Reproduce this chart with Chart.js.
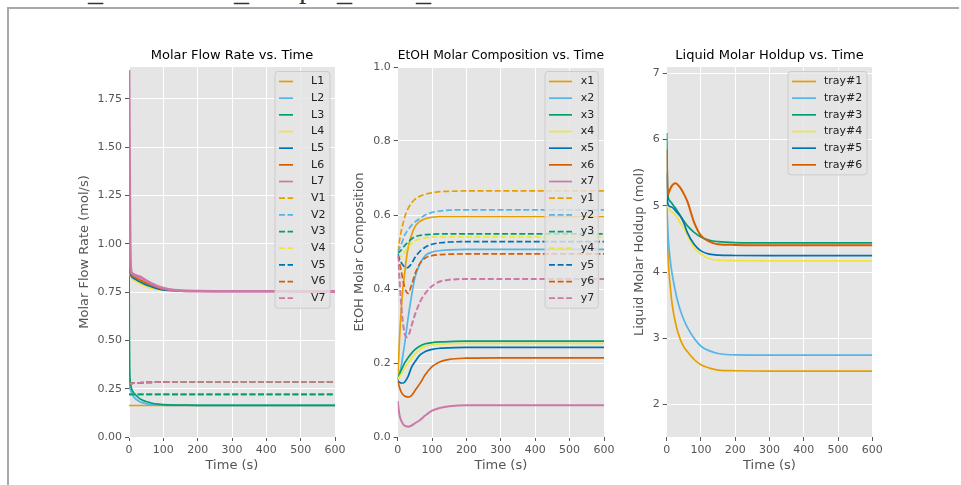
<!DOCTYPE html>
<html>
<head>
<meta charset="utf-8">
<script src="https://cdn.jsdelivr.net/npm/chart.js@4.4.1/dist/chart.umd.min.js"></script>
<style>
body{margin:0;background:#fff;width:961px;height:485px;overflow:hidden;position:relative;}
#frame{position:absolute;left:7px;top:7px;width:950px;height:490px;border-left:2px solid #a8a8a8;border-top:2px solid #a8a8a8;}
#cut{position:absolute;left:0;top:0;width:961px;height:6px;overflow:hidden;font-family:"Liberation Serif",serif;font-size:30px;line-height:30px;color:#333;}
#cut span{position:absolute;top:-24px;}
canvas{position:absolute;}
</style>
</head>
<body>
<div id="frame"></div>
<div id="cut"><span style="left:88px">_</span><span style="left:234px">_</span><span style="left:299px;top:-27px">p</span><span style="left:337px">_</span><span style="left:416px">_</span></div>
<canvas id="c1" width="285" height="445" style="left:60px;top:40px"></canvas>
<canvas id="c2" width="270" height="445" style="left:345px;top:40px"></canvas>
<canvas id="c3" width="275" height="445" style="left:615px;top:40px"></canvas>
<script>
// colours (Okabe-Ito)
var colors = ['#E69F00','#56B4E9','#009E73','#F0E442','#0072B2','#D55E00','#CC79A7'];

// Molar flow rate (mol/s)
var t1 = [0,1,2,3,5,8,15,30,47,65,85,115,155,200,300,400,500,600];
var L1 = [0.163,0.163,0.163,0.163,0.163,0.163,0.163,0.163,0.163,0.163,0.163,0.163,0.163,0.163,0.163,0.163,0.163,0.163];
var L2 = [0.30,0.28,0.26,0.25,0.24,0.226,0.205,0.184,0.174,0.168,0.166,0.164,0.164,0.164,0.164,0.164,0.164,0.164];
var L3 = [1.0,0.55,0.36,0.30,0.27,0.247,0.226,0.200,0.185,0.176,0.170,0.166,0.165,0.164,0.164,0.164,0.164,0.164];
var L4 = [1.05,0.95,0.88,0.85,0.83,0.82,0.81,0.795,0.78,0.77,0.762,0.757,0.755,0.755,0.755,0.755,0.755,0.755];
var L5 = [1.1,0.97,0.90,0.86,0.84,0.83,0.82,0.805,0.79,0.778,0.767,0.759,0.756,0.755,0.755,0.755,0.755,0.755];
var L6 = [1.2,1.0,0.92,0.87,0.85,0.84,0.83,0.815,0.80,0.787,0.773,0.762,0.757,0.755,0.755,0.755,0.755,0.755];
var L7 = [1.9,1.6,1.3,1.05,0.88,0.85,0.84,0.83,0.813,0.795,0.778,0.764,0.757,0.755,0.754,0.754,0.753,0.753];
var V1 = [0.221,0.221,0.221,0.221,0.221,0.221,0.221,0.221,0.221,0.221,0.221,0.221,0.221,0.221,0.221,0.221,0.221,0.221];
var V2 = [0.221,0.221,0.221,0.221,0.221,0.221,0.221,0.221,0.221,0.221,0.221,0.221,0.221,0.221,0.221,0.221,0.221,0.221];
var V3 = [0.221,0.221,0.221,0.221,0.221,0.221,0.221,0.221,0.221,0.221,0.221,0.221,0.221,0.221,0.221,0.221,0.221,0.221];
var V4 = [0.277,0.277,0.277,0.277,0.277,0.278,0.279,0.280,0.282,0.283,0.284,0.285,0.286,0.286,0.286,0.286,0.286,0.286];
var V5 = [0.277,0.277,0.277,0.277,0.277,0.278,0.279,0.280,0.282,0.283,0.284,0.285,0.286,0.286,0.286,0.286,0.286,0.286];
var V6 = [0.277,0.277,0.277,0.277,0.277,0.278,0.279,0.280,0.282,0.283,0.284,0.285,0.286,0.286,0.286,0.286,0.286,0.286];
var V7 = [0.277,0.277,0.277,0.277,0.277,0.278,0.279,0.280,0.282,0.283,0.284,0.285,0.286,0.286,0.286,0.286,0.286,0.286];

// EtOH molar composition
var t2 = [0,5,10,15,20,25,30,40,50,65,80,100,125,150,200,300,400,500,600];
var x1 = [0.153,0.26,0.34,0.40,0.44,0.48,0.51,0.545,0.568,0.583,0.59,0.594,0.596,0.596,0.596,0.596,0.596,0.596,0.596];
var x2 = [0.153,0.17,0.19,0.22,0.25,0.285,0.32,0.38,0.43,0.468,0.49,0.50,0.504,0.506,0.507,0.507,0.507,0.507,0.507];
var x3 = [0.155,0.168,0.18,0.19,0.20,0.207,0.214,0.226,0.236,0.246,0.252,0.255,0.257,0.258,0.259,0.259,0.259,0.259,0.259];
var x4 = [0.155,0.163,0.17,0.178,0.186,0.193,0.20,0.212,0.224,0.237,0.245,0.249,0.251,0.252,0.253,0.253,0.253,0.253,0.253];
var x5 = [0.152,0.148,0.146,0.146,0.148,0.155,0.163,0.188,0.203,0.222,0.231,0.237,0.240,0.241,0.242,0.242,0.242,0.242,0.242];
var x6 = [0.15,0.135,0.122,0.115,0.111,0.109,0.108,0.112,0.125,0.145,0.168,0.19,0.204,0.21,0.213,0.214,0.214,0.214,0.214];
var x7 = [0.097,0.06,0.045,0.036,0.031,0.029,0.028,0.031,0.037,0.046,0.058,0.071,0.079,0.083,0.086,0.086,0.086,0.086,0.086];
var y1 = [0.50,0.53,0.555,0.575,0.593,0.607,0.617,0.632,0.642,0.651,0.656,0.66,0.663,0.664,0.665,0.665,0.665,0.665,0.665];
var y2 = [0.50,0.51,0.52,0.532,0.545,0.553,0.56,0.572,0.581,0.591,0.60,0.607,0.611,0.613,0.614,0.614,0.614,0.614,0.614];
var y3 = [0.495,0.50,0.505,0.511,0.517,0.522,0.527,0.535,0.541,0.545,0.547,0.548,0.549,0.549,0.549,0.549,0.549,0.549,0.549];
var y4 = [0.497,0.49,0.488,0.494,0.50,0.506,0.512,0.522,0.53,0.535,0.538,0.54,0.541,0.541,0.541,0.541,0.541,0.541,0.541];
var y5 = [0.495,0.482,0.472,0.465,0.46,0.457,0.458,0.468,0.485,0.502,0.513,0.521,0.525,0.527,0.528,0.528,0.528,0.528,0.528];
var y6 = [0.49,0.47,0.45,0.425,0.405,0.393,0.388,0.41,0.44,0.47,0.484,0.49,0.493,0.494,0.495,0.495,0.495,0.495,0.495];
var y7 = [0.49,0.43,0.36,0.31,0.28,0.27,0.272,0.30,0.33,0.365,0.388,0.408,0.421,0.425,0.427,0.427,0.427,0.427,0.427];

// Liquid molar holdup (mol)
var t3 = [0,2,4,6,10,15,20,25,30,40,50,60,80,100,125,150,200,300,400,500,600];
var tray1 = [5.0,4.55,4.25,4.05,3.8,3.55,3.38,3.25,3.14,2.98,2.87,2.8,2.68,2.6,2.55,2.52,2.51,2.505,2.505,2.505,2.505];
var tray2 = [5.1,4.8,4.55,4.4,4.2,4.0,3.85,3.72,3.6,3.42,3.28,3.17,3.0,2.88,2.81,2.77,2.75,2.747,2.747,2.747,2.747];
var tray3 = [6.1,5.35,5.15,5.1,5.07,5.04,5.0,4.97,4.93,4.85,4.77,4.7,4.6,4.53,4.48,4.46,4.445,4.44,4.44,4.44,4.44];
var tray4 = [5.05,5.0,4.97,4.95,4.93,4.91,4.89,4.86,4.83,4.74,4.66,4.56,4.37,4.27,4.2,4.18,4.172,4.17,4.17,4.17,4.17];
var tray5 = [5.5,5.1,5.02,5.0,4.99,4.98,4.96,4.93,4.9,4.84,4.74,4.6,4.42,4.32,4.27,4.255,4.25,4.247,4.247,4.247,4.247];
var tray6 = [5.85,5.3,5.17,5.2,5.25,5.3,5.33,5.34,5.33,5.27,5.18,5.07,4.75,4.55,4.46,4.42,4.41,4.405,4.405,4.405,4.405];

Chart.defaults.font.family = '"DejaVu Sans", sans-serif';
Chart.defaults.animation = false;

function pts(t, v) {
  return t.map(function(x, i) { return {x: x, y: v[i]}; });
}

function line(label, t, v, k, dashed, i, w) {
  return {
    label: label,
    data: pts(t, v),
    borderColor: colors[k],
    borderWidth: w || 1.7,
    borderDash: dashed ? [6, 2.6] : [],
    pointRadius: 0,
    cubicInterpolationMode: 'monotone',
    fill: false,
    order: -i   // later series drawn on top, like matplotlib
  };
}

// grey panel behind the data
var panelBg = {
  id: 'panelBg',
  beforeDraw: function(chart) {
    var a = chart.chartArea, c = chart.ctx;
    c.save();
    c.fillStyle = '#E5E5E5';
    c.fillRect(a.left, a.top, a.right - a.left, a.bottom - a.top);
    c.restore();
  }
};

// matplotlib style legend inside the upper right of the panel
var boxLegend = {
  id: 'boxLegend',
  afterDatasetsDraw: function(chart, args, o) {
    var c = chart.ctx, a = chart.chartArea, ds = chart.data.datasets;
    var row = 16.67;
    var top = a.top + 4.5;
    var bottom = top + 10 + (ds.length - 1) * row + 10;
    c.save();
    c.beginPath();
    c.roundRect(a.right - o.boxLeft, top, o.boxLeft - o.boxRight, bottom - top, 3);
    c.fillStyle = 'rgba(229,229,229,0.8)';
    c.fill();
    c.strokeStyle = '#cccccc';
    c.lineWidth = 1;
    c.stroke();
    c.font = '11px "DejaVu Sans"';
    c.textBaseline = 'middle';
    ds.forEach(function(d, i) {
      var y = top + 10 + i * row;
      c.beginPath();
      c.setLineDash(d.borderDash);
      c.strokeStyle = d.borderColor;
      c.lineWidth = 1.7;
      c.moveTo(a.right - o.h0, y);
      c.lineTo(a.right - o.h1, y);
      c.stroke();
      c.setLineDash([]);
      c.fillStyle = '#222';
      c.fillText(d.label, a.right - o.tx, y);
    });
    c.restore();
  }
};

function makeChart(id, title, datasets, y, legend) {
  return new Chart(document.getElementById(id), {
    type: 'line',
    data: {datasets: datasets},
    plugins: [panelBg, boxLegend],
    options: {
      responsive: false,
      devicePixelRatio: 1,
      layout: {padding: {left: 0, right: y.padRight, top: 0, bottom: 0}},
      plugins: {
        legend: {display: false},
        tooltip: {enabled: false},
        title: {display: true, text: title, color: '#000', fullSize: false,
          font: {size: 13, weight: 'normal'}, padding: {top: 8.2, bottom: 3.2}},
        boxLegend: legend
      },
      scales: {
        x: {
          type: 'linear', min: 0, max: 600,
          ticks: {stepSize: 100, color: '#555', font: {size: 11}, padding: 3, maxRotation: 0, includeBounds: false},
          grid: {color: '#ffffff', lineWidth: 1, tickColor: '#555', tickLength: 4},
          border: {display: false},
          title: {display: true, text: 'Time (s)', color: '#555', font: {size: 13}, padding: {top: 0, bottom: 11.5}},
          afterFit: function(s) { s.height = 48; s.paddingLeft = 0; s.paddingRight = 0; }
        },
        y: {
          type: 'linear', min: y.min, max: y.max,
          ticks: {stepSize: y.step, color: '#555', font: {size: 11}, padding: 3, includeBounds: false,
            callback: function(v) { return v.toFixed(y.digits); }},
          grid: {color: '#ffffff', lineWidth: 1, tickColor: '#555', tickLength: 4},
          border: {display: false},
          title: {display: true, text: y.title, color: '#555', font: {size: 13}, padding: {top: y.titlePad, bottom: 0}},
          afterFit: function(s) { s.width = y.width; }
        }
      }
    }
  });
}

makeChart('c1', 'Molar Flow Rate vs. Time', [
  line('L1', t1, L1, 0, false, 0),
  line('L2', t1, L2, 1, false, 1),
  line('L3', t1, L3, 2, false, 2),
  line('L4', t1, L4, 3, false, 3),
  line('L5', t1, L5, 4, false, 4),
  line('L6', t1, L6, 5, false, 5),
  line('L7', t1, L7, 6, false, 6, 2.8),
  line('V1', t1, V1, 0, true, 7),
  line('V2', t1, V2, 1, true, 8),
  line('V3', t1, V3, 2, true, 9),
  line('V4', t1, V4, 3, true, 10),
  line('V5', t1, V5, 4, true, 11),
  line('V6', t1, V6, 5, true, 12),
  line('V7', t1, V7, 6, true, 13)
], {min: 0, max: 1.915, step: 0.25, digits: 2, title: 'Molar Flow Rate (mol/s)', titlePad: 17.2, width: 69, padRight: 10},
   {boxLeft: 60, boxRight: 5, h0: 56, h1: 42, tx: 24});

makeChart('c2', 'EtOH Molar Composition vs. Time', [
  line('x1', t2, x1, 0, false, 0),
  line('x2', t2, x2, 1, false, 1),
  line('x3', t2, x3, 2, false, 2),
  line('x4', t2, x4, 3, false, 3),
  line('x5', t2, x5, 4, false, 4),
  line('x6', t2, x6, 5, false, 5),
  line('x7', t2, x7, 6, false, 6, 2),
  line('y1', t2, y1, 0, true, 7),
  line('y2', t2, y2, 1, true, 8),
  line('y3', t2, y3, 2, true, 9),
  line('y4', t2, y4, 3, true, 10),
  line('y5', t2, y5, 4, true, 11),
  line('y6', t2, y6, 5, true, 12),
  line('y7', t2, y7, 6, true, 13, 2)
], {min: 0, max: 1.0, step: 0.2, digits: 1, title: 'EtOH Molar Composition', titlePad: 7.2, width: 52.7, padRight: 11},
   {boxLeft: 59, boxRight: 5.7, h0: 55, h1: 32, tx: 23.3});

makeChart('c3', 'Liquid Molar Holdup vs. Time', [
  line('tray#1', t3, tray1, 0, false, 0),
  line('tray#2', t3, tray2, 1, false, 1),
  line('tray#3', t3, tray3, 2, false, 2),
  line('tray#4', t3, tray4, 3, false, 3),
  line('tray#5', t3, tray5, 4, false, 4),
  line('tray#6', t3, tray6, 5, false, 5, 2)
], {min: 1.51, max: 7.095, step: 1, digits: 0, title: 'Liquid Molar Holdup (mol)', titlePad: 17.2, width: 51.7, padRight: 17.7},
   {boxLeft: 84.3, boxRight: 5.3, h0: 80.3, h1: 56.3, tx: 48.3});
</script>
</body>
</html>
